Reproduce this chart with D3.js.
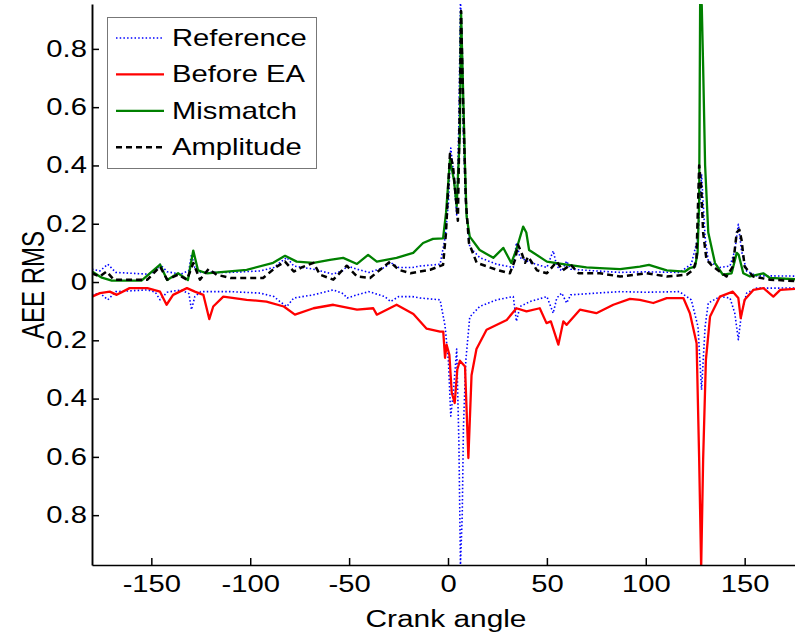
<!DOCTYPE html>
<html>
<head>
<meta charset="utf-8">
<script src="https://cdn.jsdelivr.net/npm/d3@7/dist/d3.min.js"></script>
<style>
    html, body { margin: 0; padding: 0; background: white; overflow: hidden; }
    text { font-family: "Liberation Sans", Arial, sans-serif; }
</style>
</head>
<body>
<script>
    // crank angle samples and values (magnitudes)
    var refAngle = [-180, -176, -172, -168, -160, -152, -148, -145.6, -142, -135, -131, -129.7, -128, -125, -118, -110, -95, -88, -85, -81.5, -78, -68, -58, -53, -51, -46, -40, -32, -29, -25, -18, -14, -4, -1.5, 0.2, 1.4, 2.7, 4.4, 5.5, 6.3, 7.2, 7.8, 9, 11, 16, 24.6, 33, 34.6, 36.4, 41.5, 50, 53.2, 55, 57.5, 60, 62, 75, 87, 100, 117, 123, 126.4, 128.2, 130, 131.6, 137.5, 142.6, 145, 146.8, 148.4, 151, 156, 164, 180];
    var refValue = [0.044, 0.038, 0.061, 0.033, 0.03, 0.027, 0.035, 0.061, 0.035, 0.027, 0.04, 0.095, 0.05, 0.033, 0.033, 0.033, 0.038, 0.05, 0.067, 0.084, 0.055, 0.044, 0.027, 0.04, 0.055, 0.044, 0.033, 0.05, 0.067, 0.05, 0.05, 0.055, 0.061, 0.15, 0.27, 0.46, 0.38, 0.23, 0.55, 0.97, 0.8, 0.5, 0.27, 0.12, 0.084, 0.061, 0.05, 0.135, 0.084, 0.067, 0.05, 0.107, 0.055, 0.038, 0.072, 0.044, 0.038, 0.033, 0.035, 0.033, 0.061, 0.153, 0.37, 0.153, 0.072, 0.05, 0.055, 0.107, 0.198, 0.107, 0.038, 0.021, 0.021, 0.02];

    var beforeAngle = [-180, -176, -171, -167.5, -161, -152, -145.6, -142.3, -139, -132, -128, -123.7, -120.7, -118.7, -113.6, -101.8, -91.8, -83, -77.4, -68, -58, -46, -37.8, -36, -26, -17.5, -10.8, -4, -2.4, -1.5, -0.7, 0.7, 1.9, 3.4, 4.7, 6, 8.6, 10.3, 11.9, 14.4, 19.5, 29.7, 34.6, 39.7, 46.4, 49.8, 52, 55.8, 58.3, 60, 66.7, 75, 83.6, 92, 97, 103.8, 110.6, 119, 122.3, 125.7, 127, 128, 129, 130.4, 132.5, 137.5, 144, 146.8, 148, 150, 154.4, 159.5, 164.5, 168, 180];
    var beforeValue = [0.05, 0.038, 0.033, 0.044, 0.021, 0.021, 0.033, 0.078, 0.044, 0.021, 0.033, 0.044, 0.127, 0.084, 0.05, 0.061, 0.067, 0.084, 0.112, 0.09, 0.078, 0.095, 0.09, 0.112, 0.078, 0.11, 0.16, 0.17, 0.17, 0.26, 0.215, 0.25, 0.38, 0.415, 0.3, 0.27, 0.29, 0.604, 0.32, 0.23, 0.164, 0.13, 0.09, 0.101, 0.09, 0.141, 0.135, 0.215, 0.135, 0.147, 0.095, 0.107, 0.078, 0.058, 0.061, 0.072, 0.055, 0.055, 0.107, 0.21, 0.61, 0.98, 0.61, 0.267, 0.118, 0.05, 0.033, 0.055, 0.124, 0.061, 0.027, 0.021, 0.05, 0.027, 0.021];

    var mismatchAngle = [-180, -175, -170, -155, -145.6, -142, -136.5, -131.5, -128.8, -126.4, -122, -101.8, -88.4, -82.4, -76.5, -68, -59.7, -53, -46, -40.4, -36, -26, -17.6, -12.6, -7.6, -2.5, -1, 1, 3, 4.4, 6, 6.6, 8.6, 9.4, 11, 16, 22.9, 28, 32, 34.5, 38, 39.6, 41, 50, 60, 70, 76.8, 87, 97, 101.6, 110.6, 119.8, 122.3, 124.9, 126.2, 127, 127.5, 128.3, 129, 130, 131.6, 135, 139, 143.4, 146, 147, 149.3, 152.7, 159.4, 162.8, 180];
    var mismatchValue = [0.036, 0.015, 0.005, 0.005, 0.06, 0.007, 0.03, 0.007, 0.108, 0.04, 0.03, 0.042, 0.066, 0.09, 0.07, 0.066, 0.076, 0.083, 0.062, 0.093, 0.07, 0.083, 0.1, 0.134, 0.148, 0.15, 0.237, 0.42, 0.35, 0.26, 0.51, 0.928, 0.4, 0.225, 0.156, 0.11, 0.083, 0.117, 0.065, 0.11, 0.19, 0.17, 0.11, 0.07, 0.06, 0.05, 0.048, 0.044, 0.053, 0.059, 0.04, 0.036, 0.048, 0.053, 0.1, 0.28, 0.98, 0.95, 0.74, 0.4, 0.17, 0.065, 0.025, 0.03, 0.1, 0.093, 0.03, 0.019, 0.03, 0.014, 0.008];

    var ampAngle = [-180, -176, -172.6, -169, -152, -145.6, -142, -136.5, -132, -128.8, -125.4, -121, -117, -110, -93.5, -86.6, -82.4, -78, -74, -68, -64.7, -58, -51.2, -46, -39.4, -29.3, -25, -19, -9, -2.5, -1, 0.2, 1, 2.5, 5, 6, 6.6, 7.6, 9, 10.6, 14.5, 24.6, 31.3, 33.9, 35.4, 37.2, 39, 40.5, 45, 50, 55, 58, 62, 66, 76.8, 87, 100.5, 110.6, 120.7, 124, 125.6, 127, 128, 129, 130.7, 134, 140.8, 144, 146, 147.3, 148.4, 150, 154.3, 162.8, 180];
    var ampValue = [0.03, 0.019, 0.036, 0.008, 0.008, 0.053, 0.008, 0.025, 0.008, 0.065, 0.008, 0.045, 0.025, 0.014, 0.014, 0.053, 0.07, 0.036, 0.05, 0.066, 0.025, 0.008, 0.056, 0.019, 0.014, 0.07, 0.042, 0.03, 0.042, 0.059, 0.17, 0.34, 0.44, 0.4, 0.21, 0.625, 0.93, 0.625, 0.28, 0.134, 0.066, 0.042, 0.03, 0.076, 0.128, 0.1, 0.066, 0.087, 0.04, 0.03, 0.07, 0.04, 0.06, 0.03, 0.03, 0.019, 0.03, 0.019, 0.025, 0.042, 0.076, 0.4, 0.33, 0.17, 0.076, 0.053, 0.019, 0.053, 0.17, 0.18, 0.145, 0.053, 0.019, 0.008, 0.002];

    var xTicks = [-150, -100, -50, 0, 50, 100, 150];
    var yTicks = [-0.8, -0.6, -0.4, -0.2, 0, 0.2, 0.4, 0.6, 0.8];
    var legendNames = ["Reference", "Before EA", "Mismatch", "Amplitude"];

    var W = 795, H = 637;
    var padLeft = 92, padRight = 804, padTop = 4, padBottom = 565;
    var sx = 1.27; // the original figure is stretched sideways, so glyphs are too

    var svg = d3.select("body")
                .append("svg")
                .attr("width", W)
                .attr("height", H);

    var xScale = d3.scaleLinear()
        .domain([-180, 180])
        .range([padLeft, padRight]);

    var yScale = d3.scaleLinear()
        .domain([-0.971, 0.954])
        .range([padBottom, padTop]);

    svg.append("defs").append("clipPath")
        .attr("id", "plotclip")
        .append("rect")
        .attr("x", padLeft)
        .attr("y", padTop)
        .attr("width", padRight - padLeft)
        .attr("height", padBottom - padTop);

    function pairs(ang, val, sign) {
        var out = [];
        for (var i = 0; i < ang.length; i++) {
            out.push({x: ang[i], y: sign * val[i]});
        }
        return out;
    }

    var line = d3.line()
        .x(function(d) { return xScale(d.x); })
        .y(function(d) { return yScale(d.y); });

    var styles = [
        {color: "#0000ff", width: 1.6, dash: "1.5 2.2"},
        {color: "#ff0000", width: 2.3, dash: null},
        {color: "#008000", width: 2.3, dash: null},
        {color: "#000000", width: 2.5, dash: "6 4"}
    ];

    var plot = svg.append("g").attr("clip-path", "url(#plotclip)");

    var series = [
        {data: pairs(refAngle, refValue, 1), s: styles[0]},
        {data: pairs(refAngle, refValue, -1), s: styles[0]},
        {data: pairs(beforeAngle, beforeValue, -1), s: styles[1]},
        {data: pairs(mismatchAngle, mismatchValue, 1), s: styles[2]},
        {data: pairs(ampAngle, ampValue, 1), s: styles[3]}
    ];

    series.forEach(function(sr) {
        plot.append("path")
            .datum(sr.data)
            .attr("fill", "none")
            .attr("stroke", sr.s.color)
            .attr("stroke-width", sr.s.width)
            .attr("stroke-dasharray", sr.s.dash)
            .attr("stroke-linejoin", "round")
            .attr("d", line);
    });

    // axes, matlab style ticks pointing inward
    var xAxis = svg.append("g")
        .attr("transform", "translate(0," + padBottom + ")")
        .call(d3.axisBottom(xScale).tickValues(xTicks).tickSizeInner(-7).tickSizeOuter(0).tickPadding(11)
            .tickFormat(function(d) { return String(d); }));

    var yAxis = svg.append("g")
        .attr("transform", "translate(" + padLeft + ",0)")
        .call(d3.axisLeft(yScale).tickValues(yTicks).tickSizeInner(-7).tickSizeOuter(0).tickPadding(4)
            .tickFormat(function(d) { return d === 0 ? "0" : Math.abs(d).toFixed(1); }));

    [xAxis, yAxis].forEach(function(ax) {
        ax.selectAll(".tick line").attr("stroke", "#000").attr("stroke-width", 1.5);
        ax.selectAll("text")
            .attr("fill", "#000")
            .attr("transform", "scale(" + sx + ",1)")
            .style("font-family", "'Liberation Sans', Arial, sans-serif")
            .style("font-size", "23px");
    });
    xAxis.select(".domain").attr("stroke", "#000").attr("stroke-width", 1.4);
    yAxis.select(".domain").attr("stroke", "#000").attr("stroke-width", 1.9);

    svg.append("text")
        .attr("transform", "translate(446,627) scale(" + sx + ",1)")
        .attr("text-anchor", "middle")
        .style("font-size", "23.5px")
        .text("Crank angle");

    svg.append("text")
        .attr("transform", "translate(44,285) scale(" + sx + ",1) rotate(-90)")
        .attr("text-anchor", "middle")
        .style("font-size", "24px")
        .text("AEE RMS");

    // legend
    var legend = svg.append("g").attr("class", "legend");
    legend.append("rect")
        .attr("x", 107.5)
        .attr("y", 17.5)
        .attr("width", 209)
        .attr("height", 151)
        .attr("fill", "white")
        .attr("stroke", "#777")
        .attr("stroke-width", 1);

    for (var j = 0; j < legendNames.length; j++) {
        var ly = 38 + j * 36.4;
        legend.append("line")
            .attr("x1", 116)
            .attr("x2", 164)
            .attr("y1", ly)
            .attr("y2", ly)
            .attr("stroke", styles[j].color)
            .attr("stroke-width", styles[j].width)
            .attr("stroke-dasharray", styles[j].dash);
        legend.append("text")
            .attr("transform", "translate(172," + (ly + 8) + ") scale(" + sx + ",1)")
            .style("font-size", "23px")
            .text(legendNames[j]);
    }
</script>
</body>
</html>
